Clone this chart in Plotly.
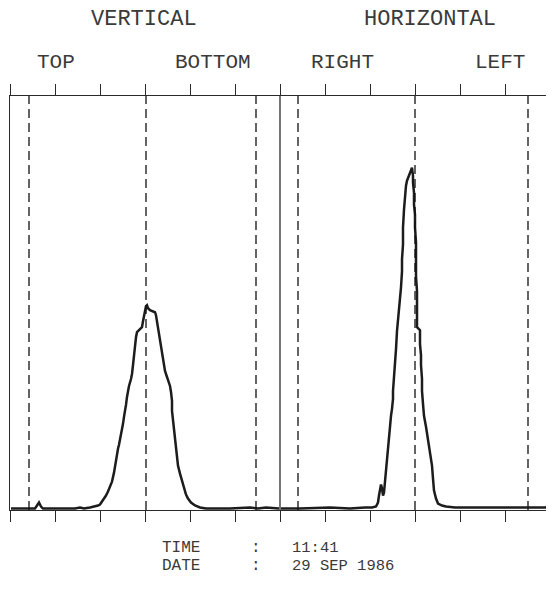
import plotly.graph_objects as go

# ---- data (x: scan channel, y: counts) ----
vert_x = [1, 20, 25, 27, 29, 31, 33, 50, 65, 70, 74, 80, 85, 88, 90, 93, 96, 98, 100, 102,
          104, 105, 106, 107, 108, 109, 110, 111, 112, 113, 114, 115, 116, 117, 118, 119,
          121, 122, 123, 124, 125, 126, 127, 129, 130, 132, 133, 134, 135, 136, 137, 138,
          140, 143, 145, 146, 147, 148, 149, 150, 152, 153, 154, 155, 157, 159, 160, 161,
          162, 162, 163, 164, 165, 166, 167, 168, 170, 172, 174, 176, 178, 181, 185, 190,
          196, 220, 240, 248, 256, 269]
vert_y = [0, 0, 0, 3, 6, 2, 0, 0, 0, 1, 0, 1, 2, 3, 4, 8, 13, 17, 22, 27,
          36, 43, 50, 55, 60, 64, 69, 74, 77, 85, 92, 97, 104, 112, 118, 123,
          130, 135, 144, 156, 165, 172, 177, 179, 180, 182, 188, 194, 199, 203, 204, 201,
          199, 198, 197, 194, 188, 182, 175, 168, 158, 150, 144, 138, 132, 127, 123, 117,
          108, 98, 88, 78, 67, 58, 50, 43, 35, 27, 20, 14, 10, 6, 3, 1,
          0, 0, 1, 0, 1, 0]

horiz_x = [271, 290, 320, 340, 355, 362, 366, 368, 369, 370, 371, 372, 373, 374, 375, 376,
           377, 378, 379, 380, 381, 382, 383, 383, 384, 385, 386, 387, 388, 389, 390, 391,
           392, 392, 393, 393, 394, 395, 396, 397, 399, 401, 402, 403, 403, 404, 404, 405,
           405, 406, 406, 406, 407, 407, 407, 410, 410, 411, 411, 412, 412, 413, 414, 416,
           418, 420, 422, 423, 424, 426, 428, 432, 436, 445, 460, 490, 520, 536, 539, 540]
horiz_y = [0, 0, 1, 0, 1, 1, 2, 6, 13, 20, 24, 20, 13, 16, 27, 40,
           53, 65, 77, 86, 93, 100, 110, 118, 130, 142, 160, 178, 188, 200, 210, 222,
           238, 250, 265, 282, 300, 315, 324, 329, 335, 340, 342, 334, 327, 317, 305, 295,
           282, 267, 250, 233, 218, 200, 182, 179, 165, 154, 144, 130, 118, 105, 93, 82,
           70, 55, 43, 30, 18, 10, 5, 3, 2, 1, 1, 1, 1, 1, 5, 8]

marker_x = [19, 136, 246, 288, 405, 518]   # dashed reference lines
divider_x = [270]                           # panel separator

panel_titles = ["VERTICAL", "HORIZONTAL"]
title_x = [134, 420]
side_labels = ["TOP", "BOTTOM", "RIGHT", "LEFT"]
side_x = [46, 203, 332, 490]
info_keys = ["TIME", "DATE"]
info_vals = ["11:41", "29 SEP 1986"]

INK = "#1c1c1c"
TXT = "#3a3a3a"
FONT = "Liberation Mono, DejaVu Sans Mono, monospace"

fig = go.Figure()
for xs, ys in [(vert_x, vert_y), (horiz_x, horiz_y)]:
    fig.add_trace(go.Scatter(x=xs, y=ys, mode="lines",
                             line=dict(color=INK, width=2.5), hoverinfo="skip",
                             showlegend=False))

shapes = []
for mx in marker_x:
    shapes.append(dict(type="line", xref="x", yref="paper", x0=mx, x1=mx, y0=0, y1=1,
                       line=dict(color="#111111", width=1.3, dash="9px,5px")))
for dx in divider_x:
    shapes.append(dict(type="line", xref="x", yref="paper", x0=dx, x1=dx, y0=0, y1=1,
                       line=dict(color="#2a2a2a", width=1.3)))
shapes.append(dict(type="line", xref="paper", yref="paper", x0=1, x1=1, y0=0, y1=1,
                   line=dict(color="#aaaaaa", width=1, dash="dot")))

ann = []
for t, x in zip(panel_titles, title_x):
    ann.append(dict(text=t, x=x, xref="x", y=1.1836, yref="paper", showarrow=False,
                    xanchor="center", yanchor="middle",
                    font=dict(family=FONT, size=22, color=TXT)))
for t, x in zip(side_labels, side_x):
    ann.append(dict(text=t, x=x, xref="x", y=1.082, yref="paper", showarrow=False,
                    xanchor="center", yanchor="middle",
                    font=dict(family=FONT, size=21, color=TXT)))
for i, (k, v) in enumerate(zip(info_keys, info_vals)):
    yy = -0.0918 - 0.0435 * i
    ann.append(dict(text=k, x=150, xref="x", y=yy, yref="paper", showarrow=False,
                    xanchor="left", yanchor="middle",
                    font=dict(family=FONT, size=16, color=TXT)))
    ann.append(dict(text=":", x=246, xref="x", y=yy, yref="paper", showarrow=False,
                    xanchor="center", yanchor="middle",
                    font=dict(family=FONT, size=16, color=TXT)))
    ann.append(dict(text=v, x=280, xref="x", y=yy, yref="paper", showarrow=False,
                    xanchor="left", yanchor="middle",
                    font=dict(family=FONT, size=15.5, color=TXT)))

# page body has an 8px default margin, so the figure is sized to fit inside it
fig.update_layout(
    width=546, height=588,
    margin=dict(l=2, r=4, t=88, b=86),
    paper_bgcolor="white", plot_bgcolor="white",
    shapes=shapes, annotations=ann,
    xaxis=dict(range=[0, 540], tick0=0, dtick=45, ticks="outside", ticklen=11,
               tickwidth=1.2, tickcolor="#2a2a2a", showticklabels=False,
               showline=True, linecolor="#2a2a2a", linewidth=1.3, mirror="ticks",
               showgrid=False, zeroline=False),
    yaxis=dict(range=[-1.5, 414], showticklabels=False, ticks="",
               showline=True, linecolor="#2a2a2a", linewidth=1.3,
               showgrid=False, zeroline=False),
)

fig.write_html("out.html")
